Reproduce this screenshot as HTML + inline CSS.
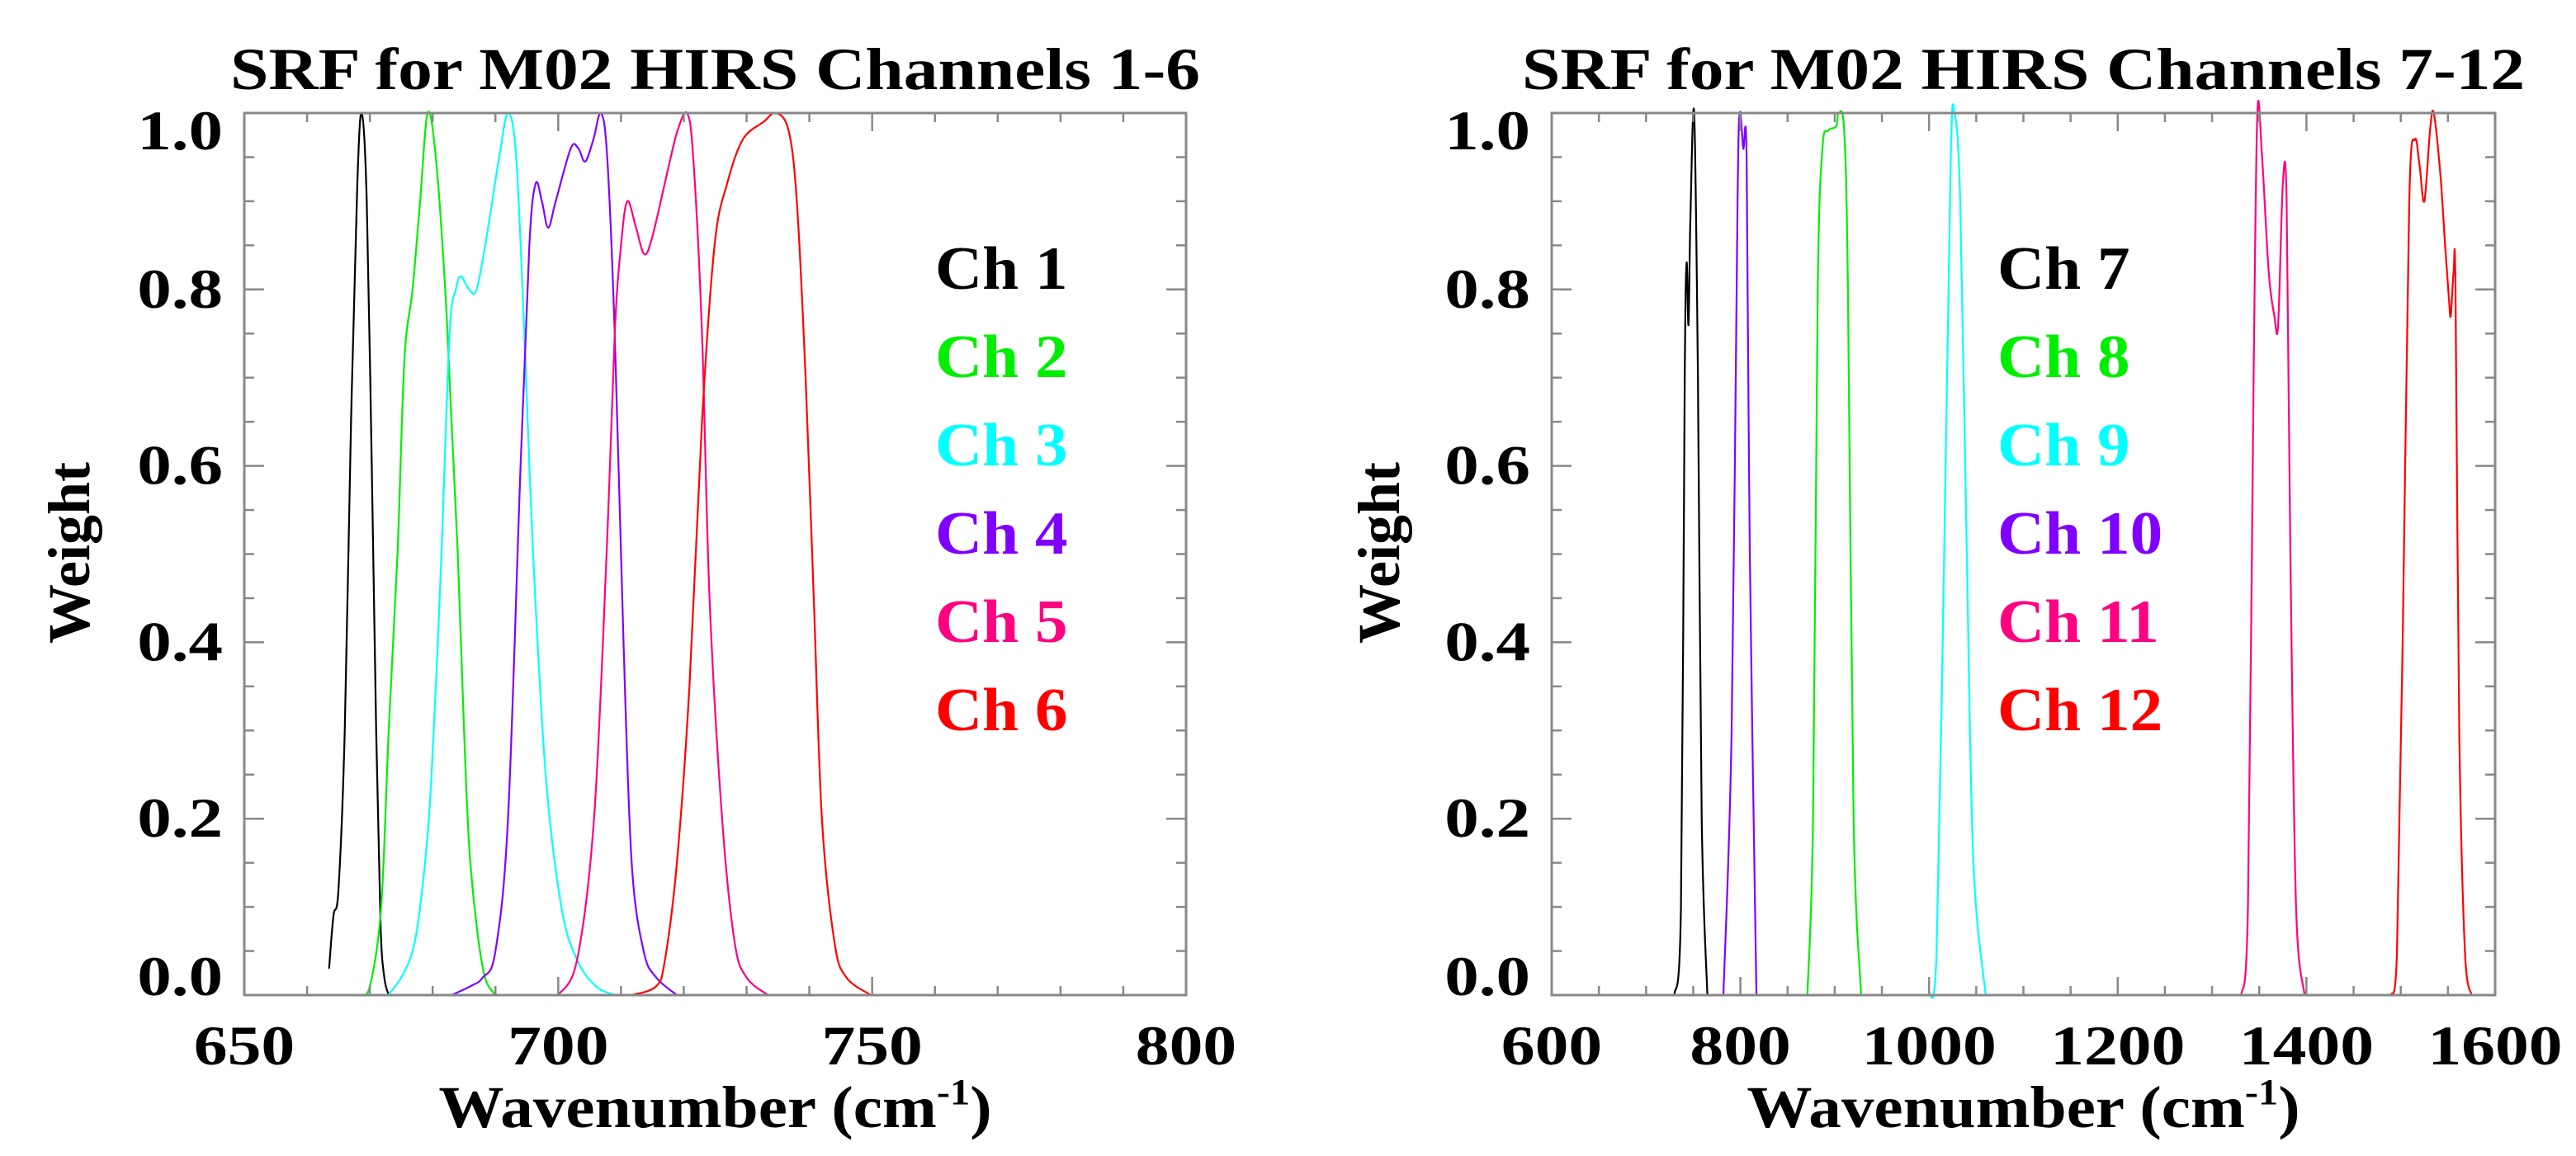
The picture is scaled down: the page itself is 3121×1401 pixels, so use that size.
<!DOCTYPE html>
<html><head><meta charset="utf-8"><style>
html,body{margin:0;padding:0;background:#fff;}
svg{display:block;font-family:"Liberation Serif",serif;font-weight:bold;}
</style></head><body>
<svg id="svg" width="3121" height="1401" viewBox="0 0 3121 1401"></svg>
<script>
// ---------- data ----------
const leftXTicks = [650, 700, 750, 800];
const rightXTicks = [600, 800, 1000, 1200, 1400, 1600];
const yTicks = [0.0, 0.2, 0.4, 0.6, 0.8, 1.0];
const leftNames = ["Ch 1","Ch 2","Ch 3","Ch 4","Ch 5","Ch 6"];
const rightNames = ["Ch 7","Ch 8","Ch 9","Ch 10","Ch 11","Ch 12"];
const colors = ["#000000","#00ee00","#00ffff","#8000ff","#ff0080","#ff0000"];
const ch1 = [[663.5,0.03],[664.2,0.09],[665,0.12],[666,0.3],[667,0.65],[668,0.92],[668.7,1.0],[669.5,0.9],[670.3,0.6],[671,0.3],[671.7,0.08],[672.3,0.02],[673,0]];
const ch2 = [[668.4,0],[670,0.01],[671.8,0.1],[673,0.3],[674.4,0.5],[675.5,0.72],[676.8,0.8],[678,0.9],[679.2,1.0],[680.5,0.95],[682,0.8],[683,0.65],[684,0.5],[685,0.3],[686,0.15],[688,0.03],[690,0]];
const ch3 = [[672.9,0],[675,0.02],[676.8,0.05],[678,0.1],[679.4,0.2],[680.5,0.35],[681.4,0.5],[682.7,0.75],[683.7,0.8],[684.5,0.815],[685.8,0.8],[687,0.8],[688.6,0.86],[690.6,0.95],[692,1.0],[693.3,0.95],[694.6,0.75],[696,0.5],[698,0.25],[700.5,0.1],[703,0.04],[706,0.01],[709,0]];
const ch4 = [[683,0],[686,0.01],[688,0.02],[690,0.05],[692,0.2],[694,0.6],[695.4,0.85],[696.4,0.92],[697.4,0.9],[698.4,0.87],[699.6,0.9],[702,0.96],[703.2,0.96],[704.3,0.945],[705.6,0.97],[706.8,1.0],[707.8,0.95],[709,0.75],[710.4,0.4],[711.7,0.15],[713.6,0.05],[715.6,0.02],[718.9,0]];
const ch5 = [[700,0],[703,0.04],[705.7,0.2],[707.7,0.5],[709,0.75],[710,0.85],[711,0.9],[712.4,0.87],[713.7,0.84],[715,0.86],[717.6,0.94],[719,0.98],[720.5,1.0],[721.5,0.95],[722.9,0.75],[724.1,0.45],[726.1,0.2],[728.1,0.06],[730,0.02],[733.4,0]];
const ch6 = [[711.7,0],[715.6,0.01],[717,0.04],[718.9,0.15],[720.9,0.35],[722.9,0.65],[724.9,0.85],[726.9,0.92],[729.4,0.97],[732.7,0.99],[734.7,1.0],[736.7,0.98],[738,0.9],[739.4,0.7],[740.7,0.45],[742,0.2],[744,0.06],[745.9,0.02],[749.8,0]];
const ch7 = [[730,0],[737,0.1],[741,0.7],[743,0.83],[745,0.76],[747,0.88],[751,1.0],[755,0.7],[759,0.2],[765,0]];
const ch8 = [[871,0],[877,0.2],[882,0.8],[887,0.96],[893,0.98],[901.6,0.985],[904,1.0],[910,0.98],[914,0.8],[920,0.2],[928,0]];
const ch9 = [[1000,0],[1008,0.05],[1016,0.5],[1023,0.95],[1027,1.0],[1033,0.9],[1040,0.5],[1047,0.15],[1060,0]];
const ch10 = [[782,0],[790.7,0.3],[797,0.9],[799.5,1.0],[803,0.96],[806.6,0.95],[810,0.5],[817,0]];
const ch11 = [[1331,0],[1338,0.1],[1344,0.7],[1348,1.0],[1353,0.95],[1360,0.82],[1366,0.77],[1370,0.76],[1375,0.92],[1379,0.9],[1383,0.5],[1389,0.1],[1398,0]];
const ch12 = [[1490,0],[1496,0.05],[1502,0.4],[1509,0.9],[1515,0.97],[1520,0.94],[1525,0.9],[1531,0.98],[1535,1.0],[1542,0.93],[1547,0.85],[1551,0.79],[1553,0.77],[1556,0.82],[1558,0.8],[1562,0.3],[1568,0.05],[1575,0]];
const leftSeries = [ch1,ch2,ch3,ch4,ch5,ch6];
const rightSeries = [ch7,ch8,ch9,ch10,ch11,ch12];

// ---------- drawing ----------
const NS = "http://www.w3.org/2000/svg";
const svg = document.getElementById("svg");
function mk(tag, attrs, parent, text){
  const e = document.createElementNS(NS, tag);
  for (const k in attrs) e.setAttribute(k, attrs[k]);
  if (text !== undefined) e.textContent = text;
  parent.appendChild(e);
  return e;
}
function widen(el, f){
  const L = el.getComputedTextLength();
  if (L > 0){ el.setAttribute("textLength", (L * f).toFixed(1)); el.setAttribute("lengthAdjust", "spacingAndGlyphs"); }
}
function smoothPath(pts){
  if (pts.length < 2) return "";
  let d = "M" + pts[0][0] + "," + pts[0][1];
  for (let i = 0; i < pts.length - 1; i++){
    const p0 = pts[Math.max(0,i-1)], p1 = pts[i], p2 = pts[i+1], p3 = pts[Math.min(pts.length-1,i+2)];
    const c1x = p1[0] + (p2[0]-p0[0])/6, c1y = p1[1] + (p2[1]-p0[1])/6;
    const c2x = p2[0] - (p3[0]-p1[0])/6, c2y = p2[1] - (p3[1]-p1[1])/6;
    d += " C" + c1x + "," + c1y + " " + c2x + "," + c2y + " " + p2[0] + "," + p2[1];
  }
  return d;
}
function panel(cfg){
  const g = mk("g", {}, svg);
  
  
  const {x0,x1,y0,y1,xmin,xmax,minorX} = cfg;
  const sx = v => x0 + (v - xmin) / (xmax - xmin) * (x1 - x0);
  const sy = v => y0 - v * (y0 - y1);
  cfg.series.forEach((s, i) => {
    const p = mk("path", {d: smoothPath(s.map(q => [sx(q[0]), sy(q[1])])), fill:"none", stroke: colors[i], "stroke-width": 2.2, "stroke-linejoin":"round"}, g);
    
    
  });
  const fr = mk("rect", {x:x0, y:y1, width:x1-x0, height:y0-y1, fill:"none", stroke:"#888", "stroke-width":3}, g);
  
  
  for (let v = xmin; v <= xmax + 1e-6; v += minorX){
    const major = cfg.xTicks.some(t => Math.abs(t - v) < 1e-6);
    const L = major ? 22 : 11, X = sx(v);
    mk("line", {x1:X, y1:y0, x2:X, y2:y0-L, stroke:"#888", "stroke-width":2.5}, g);
    mk("line", {x1:X, y1:y1, x2:X, y2:y1+L, stroke:"#888", "stroke-width":2.5}, g);
  }
  cfg.xTicks.forEach(t => {
    const tx = mk("text", {x:sx(t), y:1290, "font-size":68, "text-anchor":"middle", fill:"#000"}, g, String(t));
    
    
    widen(tx, 1.2);
  });
  for (let k = 0; k <= 20; k++){
    const v = k * 0.05, Y = sy(v);
    const L = (k % 4 === 0) ? 24 : 12;
    mk("line", {x1:x0, y1:Y, x2:x0+L, y2:Y, stroke:"#888", "stroke-width":2.5}, g);
    mk("line", {x1:x1, y1:Y, x2:x1-L, y2:Y, stroke:"#888", "stroke-width":2.5}, g);
  }
  yTicks.forEach(t => {
    let by = sy(t) + 22;
    by = Math.min(by, y0); by = Math.max(by, y1 + 44);
    const tx = mk("text", {x:x0-26, y:by, "font-size":68, "text-anchor":"end", fill:"#000"}, g, t.toFixed(1));
    
    
    widen(tx, 1.22);
  });
  const cx = (x0 + x1) / 2;
  const ti = mk("text", {x:cx, y:108, "font-size":72, "text-anchor":"middle", fill:"#000", textLength:cfg.titleLen, lengthAdjust:"spacingAndGlyphs"}, g, cfg.title);
  
  
  const xt = mk("text", {x:cx, y:1366, "font-size":72, "text-anchor":"middle", fill:"#000"}, g);
  
  
  xt.appendChild(document.createTextNode("Wavenumber (cm"));
  mk("tspan", {dy:-28, "font-size":44}, xt, "-1");
  mk("tspan", {dy:28}, xt, ")");
  widen(xt, 1.1);
  const yt = mk("text", {x:0, y:0, "font-size":72, "text-anchor":"middle", fill:"#000", transform:"translate(" + cfg.yTitleX + ",670) rotate(-90)"}, g, "Weight");
  
  
  cfg.names.forEach((n, i) => {
    const lt = mk("text", {x:cfg.legX, y:350 + i * 107, "font-size":74, fill:colors[i]}, g, n);
    
    
    widen(lt, 1.07);
  });
}
panel({name:"left-panel", x0:296, x1:1437, y0:1206, y1:137, xmin:650, xmax:800, minorX:10,
  xTicks:leftXTicks, series:leftSeries, names:leftNames, title:"SRF for M02 HIRS Channels 1-6",
  titleLen:1175, yTitleX:108, legX:1133});
panel({name:"right-panel", x0:1880, x1:3023, y0:1206, y1:137, xmin:600, xmax:1600, minorX:50,
  xTicks:rightXTicks, series:rightSeries, names:rightNames, title:"SRF for M02 HIRS Channels 7-12",
  titleLen:1215, yTitleX:1695, legX:2420});
</script>
</body></html>
